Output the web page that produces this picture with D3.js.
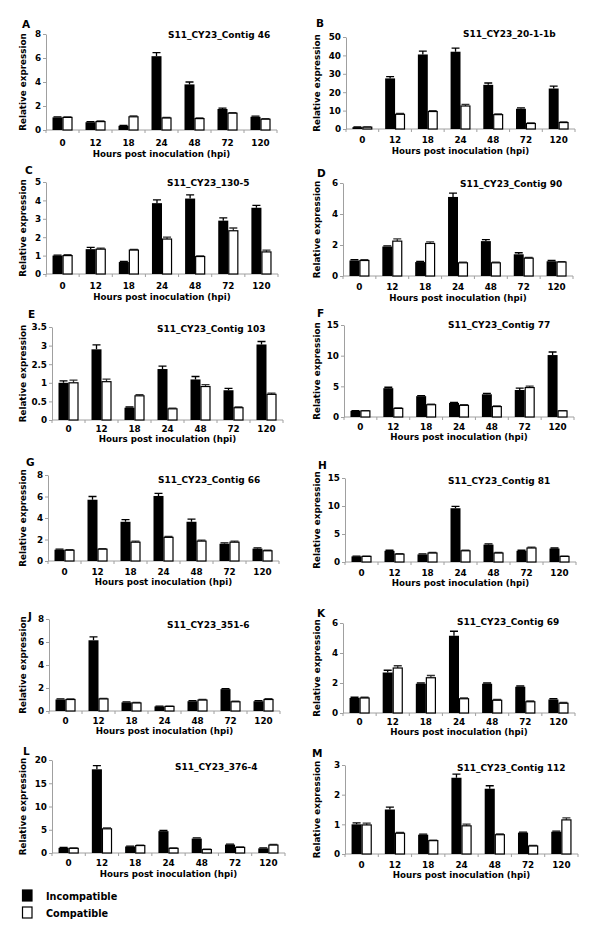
<!DOCTYPE html>
<html><head><meta charset="utf-8">
<script src="https://cdn.jsdelivr.net/npm/d3@7"></script>
<style>
body{margin:0;background:#fff}
svg text{font-family:"DejaVu Sans",Verdana,sans-serif;font-weight:bold;fill:#000}
</style>
</head><body><svg id="chart" width="600" height="936"></svg>
<script>
// ---------------- DATA ----------------
const categories = ["0","12","18","24","48","72","120"];
const seriesNames = ["Incompatible","Compatible"];
const xAxisTitle = "Hours post inoculation (hpi)";
const yAxisTitle = "Relative expression";

const letters = ["A","B","C","D","E","F","G","H","J","K","L","M"];
const titles = ["S11_CY23_Contig 46","S11_CY23_20-1-1b","S11_CY23_130-5","S11_CY23_Contig 90",
  "S11_CY23_Contig 103","S11_CY23_Contig 77","S11_CY23_Contig 66","S11_CY23_Contig 81",
  "S11_CY23_351-6","S11_CY23_Contig 69","S11_CY23_376-4","S11_CY23_Contig 112"];

const incA = [1.05,0.65,0.35,6.15,3.8,1.75,1.1],   errIncA = [0.05,0.05,0.03,0.3,0.2,0.08,0.05];
const comA = [1.05,0.7,1.1,1.0,0.95,1.4,0.9],      errComA = [0.05,0.05,0.08,0.05,0.05,0.05,0.05];
const incB = [1,27.5,40.5,42,24,11,22],            errIncB = [0.1,1.0,1.8,2.0,1.0,0.5,1.3];
const comB = [1,8,9.5,12.5,7.8,3,3.5],             errComB = [0.1,0.5,0.5,0.9,0.4,0.3,0.3];
const incC = [1.0,1.35,0.65,3.85,4.1,2.9,3.6],     errIncC = [0.03,0.1,0.03,0.18,0.2,0.15,0.13];
const comC = [1.0,1.35,1.3,1.9,0.95,2.35,1.2],     errComC = [0.05,0.06,0.04,0.1,0.04,0.15,0.1];
const incD = [1.0,1.9,0.9,5.1,2.25,1.4,0.95],      errIncD = [0.05,0.05,0.05,0.25,0.1,0.1,0.05];
const comD = [1.0,2.25,2.1,0.85,0.85,1.15,0.9],    errComD = [0.05,0.15,0.1,0.05,0.05,0.05,0.03];
const incE = [1.0,1.9,0.33,1.37,1.09,0.8,2.03],    errIncE = [0.05,0.12,0.02,0.08,0.08,0.05,0.08];
const comE = [1.0,1.03,0.65,0.3,0.9,0.33,0.69],    errComE = [0.07,0.07,0.03,0.02,0.05,0.02,0.03];
const incF = [1.0,4.7,3.4,2.3,3.7,4.4,10.1],       errIncF = [0.05,0.15,0.1,0.1,0.15,0.3,0.5];
const comF = [1.0,1.4,2.0,1.9,1.7,4.8,1.0],        errComF = [0.05,0.1,0.1,0.1,0.1,0.25,0.05];
const incG = [1.05,5.7,3.65,6.05,3.65,1.6,1.15],   errIncG = [0.05,0.3,0.2,0.25,0.25,0.08,0.08];
const comG = [1.0,1.1,1.75,2.2,1.85,1.75,0.95],    errComG = [0.05,0.05,0.1,0.08,0.1,0.1,0.05];
const incH = [1.0,2.0,1.35,9.6,3.1,2.0,2.4],       errIncH = [0.05,0.1,0.1,0.35,0.15,0.1,0.1];
const comH = [1.0,1.4,1.6,2.0,1.6,2.5,1.0],        errComH = [0.05,0.1,0.1,0.1,0.1,0.15,0.05];
const incJ = [1.0,6.15,0.75,0.4,0.85,1.9,0.85],    errIncJ = [0.05,0.3,0.05,0.03,0.05,0.05,0.05];
const comJ = [1.0,1.05,0.7,0.4,0.95,0.8,1.0],      errComJ = [0.05,0.05,0.05,0.03,0.05,0.05,0.08];
const incK = [1.0,2.7,1.95,5.15,1.95,1.75,0.9],    errIncK = [0.05,0.15,0.05,0.3,0.05,0.05,0.05];
const comK = [1.0,3.0,2.35,0.95,0.85,0.75,0.65],   errComK = [0.05,0.15,0.15,0.05,0.05,0.05,0.05];
const incL = [1.1,18.0,1.4,4.7,3.1,1.8,1.0],       errIncL = [0.1,0.8,0.1,0.15,0.15,0.1,0.1];
const comL = [1.0,5.2,1.6,1.0,0.75,1.2,1.7],       errComL = [0.1,0.2,0.1,0.1,0.1,0.1,0.15];
const incM = [1.0,1.5,0.65,2.57,2.2,0.72,0.75],    errIncM = [0.05,0.08,0.02,0.12,0.1,0.02,0.02];
const comM = [0.98,0.7,0.45,0.95,0.65,0.27,1.15],  errComM = [0.06,0.03,0.02,0.06,0.03,0.02,0.07];

const yTicksA = [0,2,4,6,8];
const yTicksB = [0,10,20,30,40,50];
const yTicksC = [0,1,2,3,4,5];
const yTicksD = [0,2,4,6];
const yTicksE = [0,0.5,1,1.5,2,2.5];
const yTickLabelsE = ["0","0.5","1","2.5","3","3.5"];
const yTicksF = [0,5,10,15];
const yTicksG = [0,2,4,6,8];
const yTicksH = [0,5,10,15];
const yTicksJ = [0,2,4,6,8];
const yTicksK = [0,2,4,6];
const yTicksL = [0,5,10,15,20];
const yTicksM = [0,1,2,3];

const panelData = [
  {inc:incA, com:comA, eI:errIncA, eC:errComA, ticks:yTicksA},
  {inc:incB, com:comB, eI:errIncB, eC:errComB, ticks:yTicksB},
  {inc:incC, com:comC, eI:errIncC, eC:errComC, ticks:yTicksC},
  {inc:incD, com:comD, eI:errIncD, eC:errComD, ticks:yTicksD},
  {inc:incE, com:comE, eI:errIncE, eC:errComE, ticks:yTicksE, tickLabels:yTickLabelsE},
  {inc:incF, com:comF, eI:errIncF, eC:errComF, ticks:yTicksF},
  {inc:incG, com:comG, eI:errIncG, eC:errComG, ticks:yTicksG},
  {inc:incH, com:comH, eI:errIncH, eC:errComH, ticks:yTicksH},
  {inc:incJ, com:comJ, eI:errIncJ, eC:errComJ, ticks:yTicksJ},
  {inc:incK, com:comK, eI:errIncK, eC:errComK, ticks:yTicksK},
  {inc:incL, com:comL, eI:errIncL, eC:errComL, ticks:yTicksL},
  {inc:incM, com:comM, eI:errIncM, eC:errComM, ticks:yTicksM}
];

// ---------------- LAYOUT ----------------
const layout = [
  {l:46, r:277, t:34,  b:130, lo:16, to:27, tx:168, ty:38,  lx:22,  ly:28},
  {l:346,r:575, t:37,  b:129, lo:14, to:25, tx:463, ty:37,  lx:316, ly:27},
  {l:46, r:278, t:182, b:274, lo:15, to:26, tx:167, ty:186, lx:25,  ly:174},
  {l:343,r:573, t:183, b:276, lo:14, to:25, tx:460, ty:187, lx:317, ly:177},
  {l:52, r:283, t:327, b:420, lo:12, to:22, tx:157, ty:332, lx:28,  ly:318},
  {l:344,r:574, t:325, b:417, lo:13, to:23, tx:448, ty:328, lx:317, ly:317},
  {l:48, r:279, t:475, b:561, lo:14, to:24, tx:158, ty:483, lx:26,  ly:466},
  {l:345,r:576, t:478, b:562, lo:14, to:24, tx:448, ty:484, lx:318, ly:469},
  {l:49, r:280, t:619, b:711, lo:13, to:23, tx:167, ty:628, lx:28,  ly:620},
  {l:343,r:575, t:623, b:713, lo:12, to:22, tx:457, ty:625, lx:317, ly:617},
  {l:52, r:285, t:760, b:853, lo:13, to:24, tx:175, ty:770, lx:23,  ly:755},
  {l:345,r:578, t:765, b:854, lo:14, to:24, tx:457, ty:771, lx:312, ly:757}
];

const FS = 8.8;
const axisColor = "#a0a0a0";
const svg = d3.select("#chart");
svg.append("rect").attr("width",600).attr("height",936).attr("fill","#fff");

panelData.forEach((pd, i) => {
  const L = layout[i];
  const g = svg.append("g");
  const ymax = pd.ticks[pd.ticks.length-1];
  const x = d3.scaleBand().domain(categories).range([L.l, L.r]).padding(0);
  const xs = d3.scaleBand().domain(seriesNames).range([0, x.bandwidth()]).paddingInner(0).paddingOuter(0.65);
  const y = d3.scaleLinear().domain([0, ymax]).range([L.b, L.t]);

  // y axis
  const ya = g.append("g").attr("transform", `translate(${L.l},0)`)
    .call(d3.axisLeft(y).tickValues(pd.ticks).tickSize(3).tickSizeOuter(0).tickPadding(2)
      .tickFormat((d,k) => pd.tickLabels ? pd.tickLabels[k] : d3.format("~g")(d)));
  ya.select(".domain").attr("stroke", axisColor);
  ya.selectAll(".tick line").attr("stroke", axisColor);
  ya.selectAll(".tick text").style("font-size", FS+"px").style("font-family",'"DejaVu Sans",sans-serif').attr("fill","#000");

  // x axis baseline + boundary ticks
  g.append("line").attr("x1", L.l).attr("x2", L.r).attr("y1", L.b).attr("y2", L.b).attr("stroke", axisColor);
  const bounds = d3.range(categories.length+1).map(k => L.l + k*x.step());
  g.selectAll(".bt").data(bounds).join("line").attr("x1", d=>d).attr("x2", d=>d)
    .attr("y1", L.b).attr("y2", L.b+3).attr("stroke", axisColor);
  g.selectAll(".cl").data(categories).join("text")
    .attr("x", d => x(d) + x.bandwidth()/2).attr("y", L.b + L.lo)
    .attr("text-anchor","middle").style("font-size", FS+"px").text(d=>d);

  // bars
  const rows = categories.map((c,k) => ({c, vals:[
    {s:seriesNames[0], v:pd.inc[k], e:pd.eI[k]},
    {s:seriesNames[1], v:pd.com[k], e:pd.eC[k]}]}));
  const grp = g.selectAll(".grp").data(rows).join("g").attr("transform", d => `translate(${x(d.c)},0)`);
  grp.selectAll(".eb").data(d=>d.vals).join("path")
    .attr("d", d => {
      const cx = xs(d.s) + xs.bandwidth()/2, y1 = y(d.v), y2 = y(d.v + d.e), hw = xs.bandwidth()*0.4;
      return `M${cx},${y1}V${y2}M${cx-hw},${y2}H${cx+hw}`;
    })
    .attr("stroke", d => d.s === seriesNames[0] ? "#000" : "#333").attr("stroke-width", 1.3).attr("fill","none");
  grp.selectAll(".bar").data(d=>d.vals).join("rect")
    .attr("x", d => xs(d.s) + (d.s===seriesNames[1]?0.5:0))
    .attr("width", d => xs.bandwidth() - (d.s===seriesNames[1]?1:0))
    .attr("y", d => y(d.v))
    .attr("height", d => y(0) - y(d.v))
    .attr("fill", d => d.s === seriesNames[0] ? "#000" : "#fff")
    .attr("stroke", d => d.s === seriesNames[0] ? "none" : "#000")
    .attr("stroke-width", 1.2);

  // titles
  g.append("text").attr("x", L.tx).attr("y", L.ty).style("font-size", "9px").text(titles[i]);
  g.append("text").attr("x", L.lx).attr("y", L.ly).style("font-size","10.5px").text(letters[i]);
  g.append("text").attr("x", (L.l+L.r)/2).attr("y", L.b + L.to).attr("text-anchor","middle")
    .style("font-size", "8.7px").text(xAxisTitle);
  const ylx = L.l < 300 ? 23 : 316.5;
  g.append("text").attr("transform", `translate(${ylx + 3.2},${(L.t+L.b)/2}) rotate(-90)`)
    .attr("text-anchor","middle").style("font-size", FS+"px").text(yAxisTitle);
});

// legend
const legend = svg.append("g");
const legendRows = seriesNames.map((s,k)=>({s,k}));
legend.selectAll("rect").data(legendRows).join("rect")
  .attr("x", 22.5).attr("y", d => 890 + d.k*17).attr("width", 9.5).attr("height", 11)
  .attr("fill", d => d.k===0 ? "#000" : "#fff").attr("stroke","#000").attr("stroke-width",1.2);
legend.selectAll("text").data(legendRows).join("text")
  .attr("x", 46).attr("y", d => 900 + d.k*17).style("font-size","9.7px").text(d=>d.s);
</script>
</body></html>
